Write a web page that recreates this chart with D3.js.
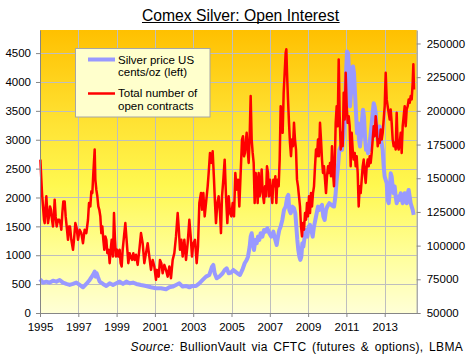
<!DOCTYPE html>
<html><head><meta charset="utf-8">
<script src="https://cdn.jsdelivr.net/npm/d3@7"></script>
<style>
body{margin:0;background:#fff}
svg{display:block}
text{font-family:"Liberation Sans",Arial,sans-serif;fill:#000}
</style>
</head><body>
<svg id="chart" width="468" height="356"></svg>
<script>
const chartTitle = "Comex Silver: Open Interest";
const yearTicks = [1995,1997,1999,2001,2003,2005,2007,2009,2011,2013];
const leftTicks = [0,500,1000,1500,2000,2500,3000,3500,4000,4500];
const rightTicks = [50000,75000,100000,125000,150000,175000,200000,225000,250000];
const legendSilver = ["Silver price US","cents/oz (left)"];
const legendOI = ["Total number of","open contracts"];
const sourcePrefix = "Source:";
const sourceText = " BullionVault via CFTC (futures & options), LBMA";

// Silver price, US cents/oz (left axis)
const silverYears = [
1995.0,1995.157,1995.331,1995.505,1995.679,1995.853,1996.027,1996.201,1996.375,1996.549,
1996.723,1996.897,1997.071,1997.245,1997.419,1997.594,1997.768,1997.855,1997.907,1997.959,
1998.029,1998.116,1998.29,1998.464,1998.638,1998.812,1998.986,1999.16,1999.334,1999.508,
1999.682,1999.856,2000.03,2000.274,2000.535,2000.796,2001.057,2001.319,2001.58,2001.754,
2001.928,2002.102,2002.276,2002.45,2002.624,2002.798,2002.972,2003.146,2003.32,2003.494,
2003.668,2003.842,2003.982,2004.051,2004.121,2004.225,2004.364,2004.538,2004.643,2004.747,
2004.852,2004.974,2005.095,2005.2,2005.304,2005.443,2005.565,2005.687,2005.791,2005.861,
2005.948,2006.0,2006.053,2006.105,2006.174,2006.244,2006.314,2006.383,2006.453,2006.522,
2006.609,2006.697,2006.784,2006.871,2006.975,2007.079,2007.184,2007.288,2007.358,2007.428,
2007.497,2007.567,2007.654,2007.741,2007.828,2007.915,2007.967,2008.019,2008.089,2008.176,
2008.263,2008.333,2008.385,2008.437,2008.489,2008.542,2008.594,2008.646,2008.698,2008.75,
2008.82,2008.89,2008.959,2009.029,2009.098,2009.168,2009.238,2009.307,2009.377,2009.447,
2009.516,2009.586,2009.656,2009.725,2009.795,2009.864,2009.934,2010.004,2010.108,2010.213,
2010.317,2010.353,2010.423,2010.492,2010.562,2010.631,2010.701,2010.771,2010.84,2010.91,
2010.98,2011.032,2011.084,2011.136,2011.188,2011.24,2011.293,2011.345,2011.397,2011.449,
2011.502,2011.554,2011.606,2011.658,2011.71,2011.763,2011.815,2011.867,2011.919,2011.971,
2012.024,2012.076,2012.128,2012.18,2012.233,2012.302,2012.372,2012.424,2012.476,2012.528,
2012.581,2012.633,2012.685,2012.737,2012.789,2012.842,2012.894,2012.946,2012.998,2013.05,
2013.103,2013.155,2013.207,2013.259,2013.312,2013.364,2013.416,2013.468,2013.521,2013.573,
2013.625,2013.677,2013.73,2013.782,2013.834,2013.886,2013.938,2013.991,2014.043,2014.095,
2014.147,2014.2,2014.252,2014.304,2014.356,2014.408,2014.461,2014.513
];
const silverCents = [
584,526,543,526,560,543,572,526,503,486,
503,526,486,445,503,572,659,716,630,688,
619,543,503,468,514,486,514,543,503,543,
514,526,503,485,468,445,428,428,410,445,
457,485,514,457,468,445,468,468,514,572,
630,659,803,832,688,601,630,688,745,774,
688,699,745,716,688,659,745,861,919,976,
1149,1322,1381,1265,1092,1265,1208,1322,1265,1381,
1322,1438,1409,1468,1381,1322,1409,1265,1178,1322,
1438,1496,1612,1785,1842,2015,2045,1785,1727,1842,
1814,1727,1496,1265,1092,976,919,976,1208,1149,
1322,1438,1322,1496,1525,1438,1322,1496,1612,1727,
1842,1785,1842,1872,1669,1612,1785,1842,1901,1872,
1842,1842,2015,2305,2536,2825,2883,2825,3056,3402,
4154,4529,4500,4211,3576,3807,4211,4269,4154,3807,
3460,3114,3287,2998,2883,3056,3345,3518,3402,3056,
2825,2883,2767,2825,2998,3229,3460,3633,3576,3460,
3114,2998,3171,3229,2998,2940,2825,2536,2362,2305,
2247,1958,1901,2074,2420,2362,2189,2074,2189,2015,
1901,1958,2015,1958,2074,1987,1901,2015,2074,2015,
1901,2074,2131,2015,1901,1842,1785,1698
];

// Total number of open contracts (right axis)
const oiYears = [
1995.02,1995.07,1995.105,1995.157,1995.209,1995.244,1995.296,1995.331,1995.383,1995.418,
1995.47,1995.522,1995.574,1995.627,1995.679,1995.731,1995.766,1995.818,1995.87,1995.94,
1996.01,1996.062,1996.114,1996.166,1996.218,1996.288,1996.34,1996.393,1996.462,1996.514,
1996.567,1996.636,1996.723,1996.775,1996.845,1996.915,1996.984,1997.071,1997.158,1997.245,
1997.332,1997.419,1997.506,1997.559,1997.628,1997.681,1997.733,1997.785,1997.855,1997.89,
1997.942,1997.994,1998.046,1998.098,1998.151,1998.203,1998.255,1998.307,1998.359,1998.412,
1998.464,1998.516,1998.586,1998.638,1998.69,1998.742,1998.812,1998.864,1998.916,1998.969,
1999.021,1999.09,1999.16,1999.212,1999.264,1999.317,1999.386,1999.456,1999.508,1999.56,
1999.612,1999.682,1999.734,1999.804,1999.873,1999.943,2000.013,2000.1,2000.187,2000.274,
2000.361,2000.448,2000.535,2000.622,2000.709,2000.796,2000.883,2000.97,2001.057,2001.11,
2001.197,2001.266,2001.336,2001.405,2001.492,2001.58,2001.667,2001.754,2001.84,2001.928,
2002.015,2002.102,2002.189,2002.24,2002.31,2002.38,2002.45,2002.537,2002.624,2002.711,
2002.798,2002.868,2002.937,2003.007,2003.094,2003.181,2003.25,2003.32,2003.407,2003.46,
2003.529,2003.599,2003.668,2003.755,2003.807,2003.877,2003.947,2004.016,2004.086,2004.138,
2004.19,2004.26,2004.33,2004.4,2004.45,2004.504,2004.573,2004.643,2004.713,2004.782,
2004.852,2004.921,2004.991,2005.06,2005.13,2005.2,2005.269,2005.339,2005.408,2005.478,
2005.548,2005.6,2005.652,2005.704,2005.757,2005.791,2005.844,2005.896,2005.948,2006.0,
2006.053,2006.105,2006.157,2006.209,2006.261,2006.314,2006.366,2006.418,2006.47,2006.522,
2006.575,2006.627,2006.697,2006.749,2006.801,2006.853,2006.905,2006.958,2007.01,2007.062,
2007.132,2007.184,2007.236,2007.288,2007.341,2007.393,2007.462,2007.515,2007.567,2007.619,
2007.671,2007.723,2007.776,2007.828,2007.863,2007.898,2007.95,2008.002,2008.054,2008.106,
2008.159,2008.211,2008.263,2008.315,2008.368,2008.42,2008.472,2008.524,2008.576,2008.629,
2008.681,2008.733,2008.785,2008.838,2008.89,2008.942,2008.994,2009.046,2009.099,2009.151,
2009.203,2009.255,2009.307,2009.36,2009.412,2009.464,2009.516,2009.569,2009.621,2009.673,
2009.725,2009.777,2009.83,2009.882,2009.934,2009.986,2010.039,2010.091,2010.143,2010.195,
2010.247,2010.3,2010.352,2010.388,2010.44,2010.492,2010.544,2010.597,2010.649,2010.701,
2010.753,2010.805,2010.858,2010.91,2010.962,2011.014,2011.067,2011.119,2011.171,2011.223,
2011.275,2011.328,2011.38,2011.432,2011.484,2011.536,2011.589,2011.641,2011.693,2011.745,
2011.798,2011.85,2011.902,2011.954,2012.006,2012.059,2012.111,2012.163,2012.215,2012.267,
2012.32,2012.372,2012.424,2012.476,2012.528,2012.581,2012.633,2012.685,2012.737,2012.79,
2012.842,2012.894,2012.946,2012.999,2013.051,2013.103,2013.155,2013.207,2013.26,2013.312,
2013.364,2013.416,2013.468,2013.521,2013.573,2013.625,2013.677,2013.73,2013.782,2013.834,
2013.886,2013.938,2013.991,2014.043,2014.095,2014.147,2014.2,2014.252,2014.304,2014.356,
2014.408,2014.461,2014.495,2014.53
];
const oiContracts = [
163800,149000,139000,129100,119200,116700,129100,136600,124200,116700,
121700,129100,126600,119200,114200,124200,134100,121700,114200,119200,
119200,116700,111800,124200,132800,132800,121700,114200,104300,114200,
114200,104300,96900,104300,116700,113000,104300,111800,109300,101800,
111800,109300,119200,131600,129100,140300,139000,153900,171300,149000,
141500,136600,129100,126600,121700,109300,114200,104300,96900,106800,
104300,94400,96900,87000,96900,104300,91900,124200,104300,91900,
96900,91900,96900,87000,84500,96900,106800,116700,106800,96900,
87000,94400,91900,89400,94400,89400,93200,85700,96900,109300,
101800,87000,94400,101800,91900,82000,89400,84500,74600,82000,
77000,89400,87000,79500,85700,82000,77000,84500,75800,89400,
94400,106800,124200,114200,96900,104300,91900,104300,89400,101800,
119200,106800,91900,101800,104300,87000,99400,131600,139000,126600,
139000,121700,131600,144000,153900,168800,161400,170000,149000,131600,
116700,131600,136600,124200,109300,136600,149000,163800,136600,116700,
136600,124200,121700,131600,121700,153900,141500,148950,129100,153900,
178700,181200,166300,168800,178700,183700,171300,161350,181200,210950,
178700,168800,161350,131600,153900,146500,131600,153900,136550,144000,
156400,139000,131600,144000,136550,158850,153900,136550,148950,141500,
131600,148950,144000,151400,131600,148950,144000,163850,203500,198550,
183700,213400,228300,243200,245650,228300,208500,191100,176250,166300,
178700,173750,191100,178700,171300,148950,144000,136550,129100,114200,
106800,116700,111750,124150,119200,131600,121700,136550,124150,139000,
129100,139000,144000,158850,171300,166300,178700,166300,191100,178700,
163850,153900,158850,148950,139000,151400,158850,153900,161350,151400,
173750,153900,144000,158850,191100,203500,188600,238200,196050,171300,
183700,173750,213400,193600,228300,203500,191100,196050,188600,158850,
183700,171300,163850,168800,158850,166300,153900,129100,144000,139000,
148950,158850,163850,153900,146500,158850,163850,158850,166300,161350,
168800,178700,188600,181200,196050,188600,173750,178700,176250,186150,
178700,183700,193600,203500,228300,208500,203500,198550,193600,201000,
191100,178700,173750,176250,171300,198550,173750,171300,176250,183700,
168800,188600,196050,203500,188600,201000,203500,208500,206000,210950,
208500,220850,234500,215900
];

const plot = {left: 40, right: 416.7, top: 30, bottom: 313};
const svg = d3.select("#chart");

const x = d3.scaleLinear().domain([1995, 2014.67]).range([plot.left, plot.right]);
const yL = d3.scaleLinear().domain([0, 4900]).range([plot.bottom, plot.top]);
const yR = d3.scaleLinear().domain([50000, 260000]).range([plot.bottom, plot.top]);

// background gradient
const defs = svg.append("defs");
const grad = defs.append("linearGradient").attr("id","bg").attr("x1",0).attr("y1",0).attr("x2",0).attr("y2",1);
[[0,"#FFC000"],[0.3,"#FFE030"],[0.55,"#FFF850"],[0.8,"#FFFF9C"],[1,"#FFFFD6"]].forEach(([o,c]) =>
  grad.append("stop").attr("offset",o).attr("stop-color",c));
svg.append("rect").attr("x",plot.left).attr("y",plot.top)
  .attr("width",plot.right-plot.left).attr("height",plot.bottom-plot.top).attr("fill","url(#bg)");

// gridlines
const grid = svg.append("g").attr("stroke","#BEBEBE").attr("stroke-width",1);
grid.selectAll(".h").data(leftTicks.filter(d => d > 0)).join("line")
  .attr("x1",plot.left).attr("x2",plot.right)
  .attr("y1",d => Math.round(yL(d))+0.5).attr("y2",d => Math.round(yL(d))+0.5);
grid.selectAll(".v").data(yearTicks.filter(d => d > 1995)).join("line")
  .attr("y1",plot.top).attr("y2",plot.bottom)
  .attr("x1",d => Math.round(x(d))+0.5).attr("x2",d => Math.round(x(d))+0.5);

// lines
const silverData = silverYears.map((t,i) => [t, silverCents[i]]);
const oiData = oiYears.map((t,i) => [t, oiContracts[i]]);
svg.append("path").datum(silverData)
  .attr("fill","none").attr("stroke","#9999FF").attr("stroke-width",4)
  .attr("stroke-linejoin","round")
  .attr("d", d3.line().x(d => x(d[0])).y(d => yL(d[1])));
svg.append("path").datum(oiData)
  .attr("fill","none").attr("stroke","#FF0000").attr("stroke-width",2.5)
  .attr("stroke-linejoin","round")
  .attr("d", d3.line().x(d => x(d[0])).y(d => yR(d[1])));

// axes
function styleAxis(g){
  g.selectAll("path.domain").attr("stroke","#868686");
  g.selectAll(".tick line").attr("stroke","#868686");
  g.selectAll(".tick text").attr("font-size","11.5px").attr("fill","#000")
    .attr("font-family",'"Liberation Sans",Arial,sans-serif');
}
svg.append("g").attr("transform",`translate(${plot.left},0)`)
  .call(d3.axisLeft(yL).tickValues(leftTicks).tickSize(4).tickSizeOuter(0).tickPadding(5).tickFormat(d3.format("d")))
  .call(styleAxis);
svg.append("g").attr("transform",`translate(${plot.right},0)`)
  .call(d3.axisRight(yR).tickValues(rightTicks).tickSize(4).tickSizeOuter(0).tickPadding(6).tickFormat(d3.format("d")))
  .call(styleAxis);
svg.append("g").attr("transform",`translate(0,${plot.bottom})`)
  .call(d3.axisBottom(x).tickValues(yearTicks).tickSize(4).tickSizeOuter(0).tickPadding(6).tickFormat(d3.format("d")))
  .call(styleAxis);

// title
const tt = svg.append("text").attr("x",240.5).attr("y",20.5).attr("text-anchor","middle")
  .attr("font-size","15.7px").text(chartTitle);
const tb = tt.node().getBBox();
svg.append("line").attr("x1",tb.x).attr("x2",tb.x+tb.width).attr("y1",22.5).attr("y2",22.5)
  .attr("stroke","#000").attr("stroke-width",1);

// legend
const lg = svg.append("g");
lg.append("rect").attr("x",75.5).attr("y",48.5).attr("width",134.5).attr("height",68.5)
  .attr("fill","#FFFFCC").attr("stroke","#A6A6A6").attr("stroke-width",1);
lg.append("line").attr("x1",88).attr("x2",115).attr("y1",59.5).attr("y2",59.5)
  .attr("stroke","#9999FF").attr("stroke-width",4);
lg.append("line").attr("x1",88).attr("x2",115).attr("y1",93.5).attr("y2",93.5)
  .attr("stroke","#FF0000").attr("stroke-width",2.5);
legendSilver.forEach((s,i) => lg.append("text").attr("x",118).attr("y",63.5+i*12.5)
  .attr("font-size","11.5px").text(s));
legendOI.forEach((s,i) => lg.append("text").attr("x",118).attr("y",97+i*12.5)
  .attr("font-size","11.5px").text(s));

// source
const src = svg.append("text").attr("x",463).attr("y",351).attr("text-anchor","end")
  .attr("font-size","12px").attr("letter-spacing","0.3px").attr("word-spacing","2px");
src.append("tspan").attr("font-style","italic").text(sourcePrefix);
src.append("tspan").text(sourceText);
</script>
</body></html>
